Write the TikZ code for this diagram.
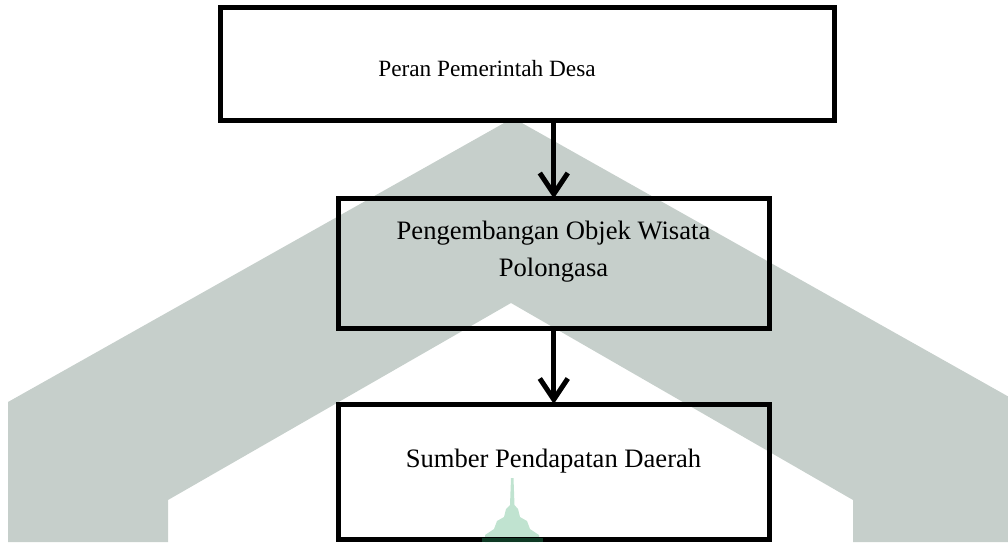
\documentclass[tikz,border=0pt]{standalone}
\usepackage{fontspec}
\setmainfont{Liberation Serif}
\usetikzlibrary{arrows.meta}
\definecolor{wmgray}{RGB}{198,207,203}
\definecolor{wmmint}{RGB}{192,227,208}
\definecolor{wmdark}{RGB}{14,58,36}
\tikzset{
  box/.style={draw=black, line width=5pt, rectangle, inner sep=0pt, outer sep=0pt},
  arr/.style={draw=black, line width=5pt, -{Straight Barb[length=21pt,width=28pt]}},
  smalltxt/.style={font=\fontsize{23.3}{28}\selectfont, inner sep=0pt, anchor=base},
  bigtxt/.style={font=\fontsize{26.6}{37}\selectfont, inner sep=0pt, anchor=base}
}
\begin{document}
\begin{tikzpicture}[x=1pt,y=-1pt]
\useasboundingbox (0,0) rectangle (1008,542);
% watermark chevron
\fill[wmgray] (8,542) -- (8,402) -- (513,118) -- (1018,402) -- (1018,542)
  -- (853,542) -- (853,500) -- (511,303) -- (168,500) -- (168,542) -- cycle;
% watermark minaret
\fill[wmmint] (511,478) -- (513.5,478) -- (514.5,505) -- (518,509) -- (520,517)
  -- (527,521) -- (530,529) -- (539,535) -- (539,542) -- (485,542) -- (485,535)
  -- (494,529) -- (497,521) -- (504,517) -- (506,509) -- (510,505) -- cycle;
% boxes
\node[box, minimum width=614pt, minimum height=112.5pt] (b1) at (527.5,63.75) {};
\node[box, minimum width=431.5pt, minimum height=129.5pt] (b2) at (553.75,263.25) {};
\node[box, minimum width=431.5pt, minimum height=135.5pt] (b3) at (553.75,471.75) {};
% texts
\node[smalltxt] (t1) at (487,76) {Peran Pemerintah Desa};
\node[bigtxt] (t2a) at (553.5,239) {Pengembangan Objek Wisata};
\node[bigtxt] (t2b) at (553.5,276) {Polongasa};
\node[bigtxt] (t3) at (553.5,467) {Sumber Pendapatan Daerah};
% arrows
\draw[arr] (b2.north |- b1.south) -- (b2.north);
\draw[arr] (b2.south) -- (b3.north);
% watermark base over the bottom line
\fill[wmdark] (482,537.5) rectangle (543,542);
\end{tikzpicture}
\end{document}
